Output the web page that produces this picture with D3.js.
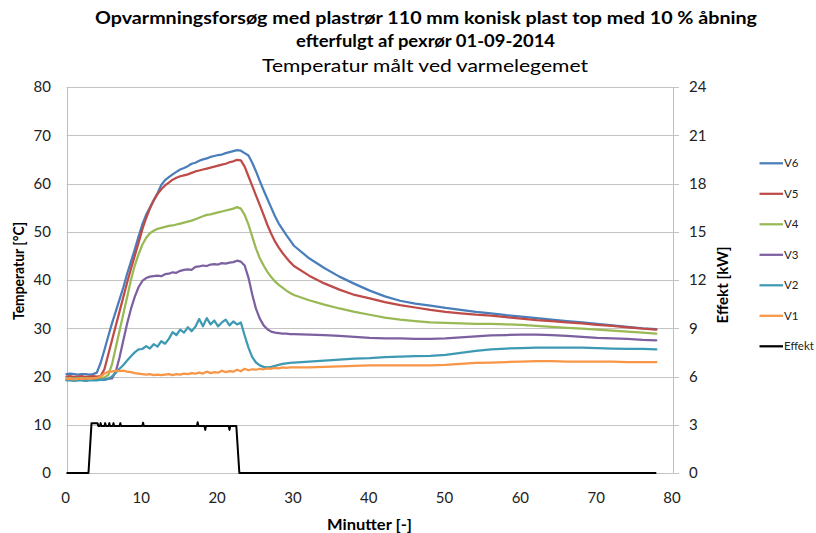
<!DOCTYPE html>
<html><head><meta charset="utf-8">
<script src="https://cdn.jsdelivr.net/npm/d3@7"></script>
<style>body{margin:0;background:#fff}svg{display:block;font-family:Lato,"Open Sans",sans-serif}</style>
</head><body>
<svg id="c" width="816" height="533"></svg>
<script>
const titleLines = ["Opvarmningsforsøg med plastrør 110 mm konisk plast top med 10 % åbning", "efterfulgt af pexrør 01-09-2014"];
const subtitle = "Temperatur målt ved varmelegemet";
const xTicks = [0,10,20,30,40,50,60,70,80];
const yLeftTicks = [0,10,20,30,40,50,60,70,80];
const yRightTicks = [0,3,6,9,12,15,18,21,24];

const minutes = [0,0.5,1,1.5,2,2.5,3,3.5,4,4.5,5,5.5,6,6.5,7,7.5,8,8.5,9,9.5,10,10.5,11,11.5,12,12.5,13,13.5,14,14.5,15,15.5,16,16.5,17,17.5,18,18.5,19,19.5,20,20.5,21,21.5,22,22.5,23,23.5,24,24.5,25,25.5,26,26.5,27,27.5,28,28.5,29,29.5,30,
 32,34,36,38,40,42,44,46,48,50,52,54,56,58,60,62,64,66,68,70,72,74,76,77.8];

const V6 = [20.5,20.6,20.5,20.4,20.5,20.5,20.4,20.5,20.8,22.8,25.5,28.3,31,33.5,36,38.5,41.3,43.8,46.3,49,51.5,53.5,55,56.5,58,59.7,60.7,61.3,61.9,62.4,62.9,63.2,63.6,64.1,64.3,64.7,65,65.2,65.5,65.7,65.9,66,66.3,66.5,66.7,66.9,66.8,66.3,65.8,64.3,62.5,60.5,58.6,56.8,55,53.2,51.7,50.5,49.3,48.2,47.1,
 44.5,42.5,40.7,39.2,37.8,36.6,35.7,35.1,34.7,34.2,33.8,33.4,33.1,32.7,32.4,32.1,31.8,31.5,31.2,30.9,30.6,30.3,30,29.8];
const V5 = [20.0,20.1,19.9,20.0,20.1,19.9,20.0,20.1,20.0,20.1,21.5,24.5,27.5,30.5,33.5,36.5,39.5,42.3,45,47.7,50.5,52.8,54.8,56.5,57.8,58.8,59.6,60.2,60.8,61.2,61.5,61.7,61.9,62.2,62.5,62.7,62.9,63.1,63.3,63.5,63.7,63.9,64.1,64.4,64.6,64.9,64.8,63.5,61.5,59.5,57.5,55.5,53.5,51.4,49.6,48,46.7,45.6,44.6,43.7,42.9,
 40.9,39.3,38,36.9,36.2,35.4,34.8,34.3,33.8,33.4,33.1,32.8,32.6,32.3,32,31.7,31.5,31.2,31,30.7,30.5,30.2,29.9,29.7];
const V4 = [19.6,19.5,19.6,19.6,19.5,19.6,19.6,19.5,19.6,19.7,19.8,20.3,22.5,26,29.5,33,36.5,40,43,45.3,47.3,48.7,49.7,50.2,50.6,50.8,51,51.2,51.3,51.5,51.7,51.9,52.1,52.3,52.6,52.9,53.2,53.5,53.6,53.8,54,54.2,54.4,54.6,54.8,55.1,54.8,53.5,51.5,49,46.5,44.5,43,41.7,40.6,39.7,39,38.4,37.8,37.3,36.9,
 35.8,34.9,34.1,33.4,32.8,32.2,31.8,31.5,31.2,31.1,31,30.9,30.9,30.8,30.7,30.5,30.3,30.1,29.9,29.7,29.5,29.3,29.1,28.9];
const V3 = [19.3,19.3,19.2,19.3,19.3,19.2,19.3,19.3,19.3,19.3,19.4,19.5,19.6,21,24,27.5,31,34,36.5,38.5,39.8,40.4,40.7,40.8,40.9,40.8,41.2,41.3,41.6,41.5,41.9,42.1,42.2,42.1,42.7,42.8,43,42.9,43.2,43.3,43.2,43.5,43.4,43.6,43.7,44,43.8,43,40.5,37,34,32,30.6,29.8,29.3,29.1,29,28.9,28.9,28.8,28.8,
 28.7,28.6,28.4,28.2,28,27.9,27.9,27.8,27.8,27.9,28.1,28.3,28.5,28.6,28.7,28.7,28.6,28.4,28.2,28,27.9,27.8,27.6,27.5];
const V2 = [19.2,19.2,19.1,19.2,19.2,19.1,19.2,19.2,19.2,19.3,19.3,19.5,20,20.8,21.6,22.4,23.3,24.2,25,25.6,25.7,26.3,25.8,26.7,26.2,27.3,26.8,27.8,29.2,28.6,29.7,29.1,30.2,29.4,30.3,31.9,30.4,32.1,30.8,31.6,30.4,31.2,31.8,30.6,31.4,30.8,31.2,28.5,26,24,22.9,22.3,22,21.9,22,22.2,22.4,22.6,22.7,22.8,22.9,
 23.1,23.3,23.5,23.7,23.8,24,24.1,24.2,24.3,24.5,24.9,25.3,25.6,25.8,25.9,26,26,26,26,25.9,25.8,25.7,25.7,25.6];
const V1 = [19.5,19.5,19.4,19.5,19.5,19.6,19.5,19.6,19.7,20.0,20.6,21,21,21.2,21.1,21.2,21,20.9,20.7,20.6,20.5,20.4,20.5,20.3,20.4,20.3,20.4,20.5,20.3,20.5,20.4,20.6,20.5,20.7,20.6,20.8,20.6,21,20.7,20.9,20.8,21.2,20.9,21.1,21,21.4,21.1,21.6,21.3,21.5,21.4,21.6,21.5,21.7,21.6,21.8,21.7,21.9,21.8,21.9,21.9,
 21.9,22,22.1,22.2,22.3,22.3,22.3,22.3,22.3,22.4,22.6,22.8,22.9,23,23.1,23.2,23.2,23.1,23.1,23.1,23.1,23,23,23];

const effektMinutes = [0,2.9,3.3,4.1,4.2,4.4,4.5,4.6,5.0,5.1,5.2,5.55,5.65,5.75,6.1,6.2,6.3,7.0,7.1,7.2,10.0,10.1,10.2,17.2,17.3,17.4,18.2,18.3,18.4,21.4,21.5,21.6,22.4,22.8,77.8];
const effektKW = [0,0,3.1,3.1,2.92,2.92,3.1,2.92,2.92,3.1,2.92,2.92,3.1,2.92,2.92,3.1,2.92,2.92,3.1,2.92,2.92,3.12,2.92,2.92,3.15,2.92,2.92,2.68,2.92,2.92,2.68,2.92,2.92,0,0];

const seriesNames = ["V6","V5","V4","V3","V2","V1"];
const seriesValues = [V6,V5,V4,V3,V2,V1];
const seriesColors = ["#4A7EBB","#BE4B48","#98B954","#7D60A0","#3E9AB3","#F79646"];

const svg = d3.select("#c");
const x = d3.scaleLinear().domain([0,80]).range([66.5,673]);
const yL = d3.scaleLinear().domain([0,80]).range([473,87]);
const yR = d3.scaleLinear().domain([0,24]).range([473,87]);

// gridlines
svg.append("g").selectAll("line").data(yLeftTicks).join("line")
  .attr("x1",x(0)).attr("x2",x(80)+6).attr("y1",d=>Math.round(yL(d))+0.5).attr("y2",d=>Math.round(yL(d))+0.5)
  .attr("stroke","#C4C4C4").attr("stroke-width",1);
// axis lines
svg.append("line").attr("x1",Math.round(x(0))+0.5).attr("x2",Math.round(x(0))+0.5).attr("y1",yL(80)).attr("y2",yL(0)+0.5).attr("stroke","#BEBEBE");
svg.append("line").attr("x1",Math.round(x(80))+0.5).attr("x2",Math.round(x(80))+0.5).attr("y1",yL(80)).attr("y2",yL(0)+0.5).attr("stroke","#BEBEBE");

// tick labels
const tf = 15;
svg.append("g").selectAll("text").data(yLeftTicks).join("text")
  .attr("x",51).attr("y",d=>yL(d)).attr("dy","0.36em").attr("text-anchor","end")
  .attr("font-size",tf).attr("fill","#222").text(d=>d);
svg.append("g").selectAll("text").data(yRightTicks).join("text")
  .attr("x",689).attr("y",d=>yR(d)).attr("dy","0.36em").attr("text-anchor","start")
  .attr("font-size",tf).attr("fill","#222").text(d=>d);
svg.append("g").selectAll("text").data(xTicks).join("text")
  .attr("x",d=>x(d)-1).attr("y",498).attr("dy","0.36em").attr("text-anchor","middle")
  .attr("font-size",tf).attr("fill","#222").text(d=>d);

// series
const line = d3.line().x((d,i)=>x(minutes[i])).y(d=>yL(d));
svg.append("g").selectAll("path").data(seriesValues).join("path")
  .attr("d",d=>line(d)).attr("fill","none").attr("stroke",(d,i)=>seriesColors[i])
  .attr("stroke-width",2.25).attr("stroke-linejoin","round").attr("stroke-linecap","round");
const eLine = d3.line().x((d,i)=>x(effektMinutes[i])).y(d=>yR(d));
svg.append("path").attr("d",eLine(effektKW)).attr("fill","none").attr("stroke","#000")
  .attr("stroke-width",2).attr("stroke-linejoin","round");

// titles
svg.append("text").attr("x",426).attr("y",24).attr("text-anchor","middle").attr("font-weight","bold")
  .attr("font-size",16.5).attr("fill","#000").attr("textLength",662).attr("lengthAdjust","spacingAndGlyphs").text(titleLines[0]);
svg.append("text").attr("x",425.5).attr("y",47).attr("text-anchor","middle").attr("font-weight","bold")
  .attr("font-size",16.5).attr("fill","#000").attr("textLength",259).attr("lengthAdjust","spacingAndGlyphs").text(titleLines[1]);
svg.append("text").attr("x",425).attr("y",72).attr("text-anchor","middle")
  .attr("font-size",16.5).attr("fill","#000").attr("textLength",326).attr("lengthAdjust","spacingAndGlyphs").text(subtitle);

// axis titles
svg.append("text").attr("transform","translate(23.5,271) rotate(-90)").attr("text-anchor","middle")
  .attr("font-weight","bold").attr("font-size",15.5).attr("fill","#000")
  .attr("textLength",98).attr("lengthAdjust","spacingAndGlyphs").text("Temperatur [°C]");
svg.append("text").attr("transform","translate(727.5,285) rotate(-90)").attr("text-anchor","middle")
  .attr("font-weight","bold").attr("font-size",15.5).attr("fill","#000")
  .attr("textLength",77).attr("lengthAdjust","spacingAndGlyphs").text("Effekt [kW]");
svg.append("text").attr("x",369.5).attr("y",530).attr("text-anchor","middle")
  .attr("font-weight","bold").attr("font-size",15.5).attr("fill","#000")
  .attr("textLength",85).attr("lengthAdjust","spacingAndGlyphs").text("Minutter [-]");

// legend
const legNames = seriesNames.concat(["Effekt"]);
const legColors = seriesColors.concat(["#000"]);
const legY = [163.3,193.8,224.3,254.8,285.3,315.8,346.3];
const lg = svg.append("g").selectAll("g").data(legNames).join("g")
  .attr("transform",(d,i)=>`translate(0,${legY[i]})`);
lg.append("line").attr("x1",759.5).attr("x2",783).attr("y1",0).attr("y2",0)
  .attr("stroke",(d,i)=>legColors[i]).attr("stroke-width",2.25);
lg.append("text").attr("x",784).attr("y",0).attr("dy","0.35em").attr("font-size",11.5).attr("fill","#222").text(d=>d);
</script>
</body></html>
